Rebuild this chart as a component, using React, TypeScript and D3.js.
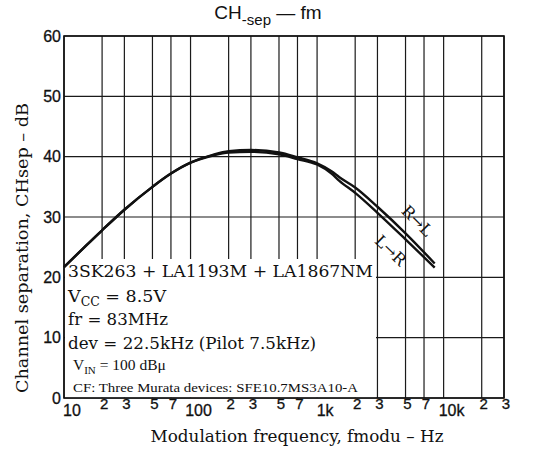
import React from "react";
import * as d3 from "d3";

const freqs = [10, 15, 20, 30, 50, 70, 100, 150, 200, 300, 500, 700, 1000, 1300, 1500, 2000, 3000, 5000, 8500];
const sepRL = [21.7, 25.3, 27.8, 31.2, 35.0, 37.2, 39.0, 40.3, 40.9, 41.1, 40.7, 39.9, 38.9, 37.6, 36.6, 34.9, 31.7, 27.3, 22.3];
const sepLR = [21.7, 25.3, 27.8, 31.2, 35.0, 37.2, 39.0, 40.2, 40.7, 40.8, 40.4, 39.6, 38.7, 37.2, 36.0, 34.0, 30.7, 26.3, 21.6];

const xTickVals = [10, 20, 30, 50, 70, 100, 200, 300, 500, 700, 1000, 2000, 3000, 5000, 7000, 10000, 20000, 30000];
const xTickText = ["10", "2", "3", "5", "7", "100", "2", "3", "5", "7", "1k", "2", "3", "5", "7", "10k", "2", "3"];
const yTickVals = [0, 10, 20, 30, 40, 50, 60];

const W = 534;
const H = 450;
const L = 64, R = 504, T = 36, B = 398;

const sans = "'Liberation Sans', Arial, sans-serif";
const serif = "'DejaVu Serif', serif";
const times = "'Liberation Serif', 'Times New Roman', serif";

export default function App() {
  const x = d3.scaleLog().domain([10, 30000]).range([L, R]);
  const y = d3.scaleLinear().domain([0, 60]).range([B, T]);
  const line = d3
    .line<number>()
    .x((_, i) => x(freqs[i]))
    .y((d) => y(d))
    .curve(d3.curveMonotoneX);

  const isDecade = (v: number) => Math.abs(Math.log10(v) - Math.round(Math.log10(v))) < 1e-9;

  return (
    <svg width={W} height={H} style={{ position: "absolute", left: 0, top: 0, background: "#fff" }}>
      <rect x={0} y={0} width={W} height={H} fill="#fff" />
      {/* title */}
      <text x={268} y={19} textAnchor="middle" fontFamily={sans} fontSize={19} fill="#111">
        CH<tspan fontSize={15} dy={6}>-sep</tspan>
        <tspan dy={-6}> — fm</tspan>
      </text>

      {/* grid */}
      {xTickVals.map((v, i) => (
        <line key={"vx" + i} x1={x(v)} x2={x(v)} y1={T} y2={B} stroke="#1a1a1a" strokeWidth={1.2} />
      ))}
      {yTickVals.map((v, i) => (
        <line key={"hy" + i} x1={L} x2={R} y1={y(v)} y2={y(v)} stroke="#1a1a1a" strokeWidth={1.2} />
      ))}

      {/* annotation box covering grid */}
      <rect x={L + 1} y={259} width={376 - L - 1} height={B - 259 - 0.5} fill="#fff" />

      {/* frame */}
      <rect x={L} y={T} width={R - L} height={B - T} fill="none" stroke="#111" strokeWidth={1.6} />

      {/* curves */}
      <path d={line(sepRL) || ""} fill="none" stroke="#111" strokeWidth={2.4} strokeLinejoin="round" />
      <path d={line(sepLR) || ""} fill="none" stroke="#111" strokeWidth={2.4} strokeLinejoin="round" />

      {/* curve labels */}
      <text
        transform={`translate(${x(5750)},${y(28.7)}) rotate(45)`}
        textAnchor="middle"
        fontFamily={serif}
        fontSize={16}
        fill="#111"
      >
        R→L
      </text>
      <text
        transform={`translate(${x(3550)},${y(23.8)}) rotate(44)`}
        textAnchor="middle"
        fontFamily={serif}
        fontSize={16}
        fill="#111"
      >
        L→R
      </text>

      {/* annotation text */}
      <g fontFamily={serif} fill="#111">
        <text x={68} y={277} fontSize={17.5} textLength={305} lengthAdjust="spacingAndGlyphs">
          3SK263 + LA1193M + LA1867NM
        </text>
        <text x={68} y={302} fontSize={17.5}>
          V<tspan fontSize={12.5} dy={4}>CC</tspan>
          <tspan dy={-4}> = 8.5V</tspan>
        </text>
        <text x={68} y={325} fontSize={17.5} textLength={100} lengthAdjust="spacingAndGlyphs">
          fr = 83MHz
        </text>
        <text x={68} y={349} fontSize={17.5} textLength={248} lengthAdjust="spacingAndGlyphs">
          dev = 22.5kHz (Pilot 7.5kHz)
        </text>
      </g>
      <g fontFamily={times} fill="#111">
        <text x={73} y={370} fontSize={15.5}>
          V<tspan fontSize={11} dy={4}>IN</tspan>
          <tspan dy={-4}> = 100 dBμ</tspan>
        </text>
        <text x={73} y={392} fontSize={13.5} textLength={285} lengthAdjust="spacingAndGlyphs">
          CF: Three Murata devices: SFE10.7MS3A10-A
        </text>
      </g>

      {/* y tick labels */}
      {yTickVals.map((v, i) => (
        <text
          key={"yl" + i}
          x={61}
          y={y(v)}
          dy="0.36em"
          textAnchor="end"
          fontFamily={sans}
          fontSize={16}
          fill="#111"
          stroke="#111"
          strokeWidth={0.3}
        >
          {v}
        </text>
      ))}

      {/* x tick labels */}
      {xTickVals.map((v, i) =>
        isDecade(v) ? (
          <text key={"xl" + i} x={x(v) + 8} y={416} textAnchor="middle" fontFamily={sans} fontSize={16} fill="#111" stroke="#111" strokeWidth={0.3}>
            {xTickText[i]}
          </text>
        ) : (
          <text key={"xl" + i} x={x(v) + 2} y={409} textAnchor="middle" fontFamily={sans} fontSize={15} fill="#111" stroke="#111" strokeWidth={0.3}>
            {xTickText[i]}
          </text>
        )
      )}

      {/* axis titles */}
      <text x={297} y={442} textAnchor="middle" fontFamily={serif} fontSize={16.5} fill="#111" textLength={293} lengthAdjust="spacingAndGlyphs">
        Modulation frequency, fmodu – Hz
      </text>
      <text
        transform={`translate(28,248) rotate(-90)`}
        textAnchor="middle"
        fontFamily={serif}
        fontSize={16.5}
        fill="#111"
        textLength={290}
        lengthAdjust="spacingAndGlyphs"
      >
        Channel separation, CHsep – dB
      </text>
    </svg>
  );
}
